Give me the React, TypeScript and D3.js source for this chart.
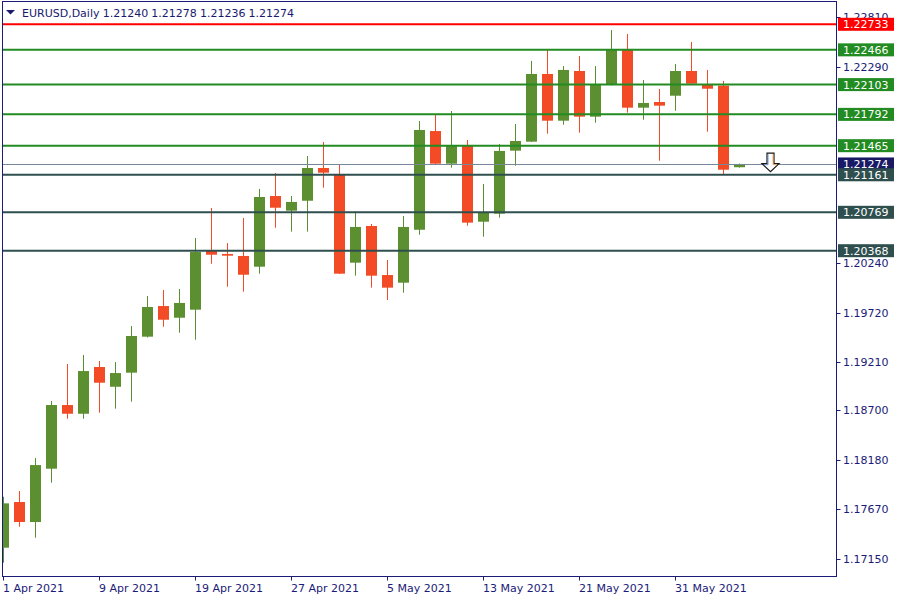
import React from 'react';
import * as d3 from 'd3';

// Daily candles, 1 Apr 2021 (index 0) .. 4 Jun 2021 (index 46)
const opens = [1.17266, 1.17743, 1.17534, 1.18091, 1.18756, 1.18665, 1.19153, 1.18947, 1.19094, 1.19470,
  1.19790, 1.19668, 1.19752, 1.20365, 1.20334, 1.20313, 1.20201, 1.20939, 1.20786, 1.20890,
  1.21232, 1.21169, 1.20243, 1.20626, 1.20114, 1.20034, 1.20587, 1.21618, 1.21277, 1.21465,
  1.20671, 1.20755, 1.21413, 1.21507, 1.22214, 1.21726, 1.22245, 1.21768, 1.22099, 1.22475,
  1.21862, 1.21921, 1.21987, 1.22245, 1.22109, 1.22092, 1.21240];
const highs = [1.17798, 1.17858, 1.18203, 1.18798, 1.19185, 1.19279, 1.19216, 1.19205, 1.19581, 1.19895,
  1.19958, 1.19968, 1.20501, 1.20814, 1.20448, 1.20710, 1.21013, 1.21180, 1.20939, 1.21357,
  1.21504, 1.21274, 1.20778, 1.20647, 1.20271, 1.20731, 1.21723, 1.21796, 1.21827, 1.21524,
  1.21065, 1.21483, 1.21692, 1.22350, 1.22465, 1.22297, 1.22402, 1.22297, 1.22673, 1.22632,
  1.22151, 1.22057, 1.22318, 1.22548, 1.22256, 1.22141, 1.21278];
const lows = [1.17109, 1.17485, 1.17370, 1.17945, 1.18613, 1.18613, 1.18676, 1.18718, 1.18791, 1.19461,
  1.19574, 1.19511, 1.19438, 1.20232, 1.19992, 1.19940, 1.20128, 1.20608, 1.20567, 1.20567,
  1.21026, 1.20125, 1.20107, 1.19982, 1.19853, 1.19929, 1.20535, 1.21274, 1.21235, 1.20629,
  1.20514, 1.20713, 1.21256, 1.21504, 1.21590, 1.21684, 1.21601, 1.21705, 1.22094, 1.21810,
  1.21736, 1.21308, 1.21830, 1.22109, 1.21611, 1.21162, 1.21236];
const closes = [1.17729, 1.17534, 1.18129, 1.18756, 1.18665, 1.19111, 1.18989, 1.19090, 1.19477, 1.19780,
  1.19647, 1.19822, 1.20354, 1.20326, 1.20316, 1.20117, 1.20929, 1.20817, 1.20877, 1.21232,
  1.21183, 1.20128, 1.20616, 1.20107, 1.19982, 1.20616, 1.21629, 1.21277, 1.21465, 1.20661,
  1.20765, 1.21410, 1.21514, 1.22214, 1.21726, 1.22256, 1.21768, 1.22099, 1.22465, 1.21862,
  1.21911, 1.21883, 1.22245, 1.22113, 1.22060, 1.21214, 1.21274];

const levelPrices = [1.22733, 1.22466, 1.22103, 1.21792, 1.21465, 1.21161, 1.20769, 1.20368];
const levelKinds = ['major', 'resistance', 'resistance', 'resistance', 'resistance', 'support', 'support', 'support'];
const currentPrice = 1.21274;

const priceTicks = [1.2281, 1.2229, 1.2024, 1.1972, 1.1921, 1.187, 1.1818, 1.1767, 1.1715];
const dateTickIndex = [0, 6, 12, 18, 24, 30, 36, 42];
const dateTickLabels = ['1 Apr 2021', '9 Apr 2021', '19 Apr 2021', '27 Apr 2021', '5 May 2021', '13 May 2021', '21 May 2021', '31 May 2021'];

const headerTitle = 'EURUSD,Daily';
const headerValues = ['1.21240', '1.21278', '1.21236', '1.21274'];

const arrowIndex = 48;
const arrowPrice = 1.21193;

const W = 900, H = 600;
const left = 2.5, right = 836.5, top = 1.5, bottom = 576.5;
const FONT = 'DejaVu Sans, Verdana, sans-serif';
const AXIS_COLOR = '#1b1b78';
const UP = '#5b8f2f';
const DOWN = '#f34b25';
const kindColor: Record<string, string> = { major: '#ff0000', resistance: '#228b22', support: '#2f4f4f' };

export default function App() {
  const x = d3.scaleLinear().domain([0, 1]).range([3.5, 19.5]);
  const y = d3.scaleLinear().domain([1.16965, 1.22971]).range([bottom, top]);
  const fmt = d3.format('.5f');
  const bw = 11;

  const candles = opens.map((o, i) => {
    const c = closes[i];
    const up = c >= o;
    const col = up ? UP : DOWN;
    const cx = x(i);
    const yTop = y(Math.max(o, c));
    const yBot = y(Math.min(o, c));
    return (
      <g key={i}>
        <rect x={Math.floor(cx)} y={y(highs[i])} width={1} height={Math.max(1, y(lows[i]) - y(highs[i]))} fill={col} />
        <rect x={cx - bw / 2} y={yTop} width={bw} height={Math.max(1, yBot - yTop)} fill={col} />
      </g>
    );
  });

  const ax = x(arrowIndex) - 1;
  const ay = y(arrowPrice);
  const arrowPath = d3.path();
  arrowPath.moveTo(ax - 3.5, ay - 18.5);
  arrowPath.lineTo(ax + 3.5, ay - 18.5);
  arrowPath.lineTo(ax + 3.5, ay - 8);
  arrowPath.lineTo(ax + 8.5, ay - 8);
  arrowPath.lineTo(ax, ay);
  arrowPath.lineTo(ax - 8.5, ay - 8);
  arrowPath.lineTo(ax - 3.5, ay - 8);
  arrowPath.closePath();

  return (
    <svg width={W} height={H} style={{ position: 'absolute', left: 0, top: 0, display: 'block', background: '#fff' }}
      fontFamily={FONT}>
      <rect x={0} y={0} width={W} height={H} fill="#fff" />
      <defs>
        <clipPath id="plotclip">
          <rect x={left} y={top} width={right - left} height={bottom - top} />
        </clipPath>
      </defs>
      <g clipPath="url(#plotclip)">
        {candles}
        {levelPrices.map((p, i) => (
          <line key={i} x1={left} x2={right} y1={y(p)} y2={y(p)} stroke={kindColor[levelKinds[i]]} strokeWidth={2} />
        ))}
        <line x1={left} x2={right} y1={Math.round(y(currentPrice)) + 0.5} y2={Math.round(y(currentPrice)) + 0.5} stroke="#778899" strokeWidth={1} />
        <path d={arrowPath.toString()} fill="#fff" stroke="#1a1a1a" strokeWidth={1.2} />
        <path d={`M${ax - 2.5},${ay - 17.5} L${ax - 2.5},${ay - 7} L${ax - 6.5},${ay - 7}`} fill="none" stroke="#4a78c8" strokeWidth={0.8} />
        <path d={`M${ax + 2.5},${ay - 17.5} L${ax + 2.5},${ay - 7} L${ax + 6.5},${ay - 7}`} fill="none" stroke="#f0a040" strokeWidth={0.8} />
      </g>

      {/* header */}
      <path d="M6,10 L15,10 L10.5,14.5 Z" fill="#191970" />
      <text x={22} y={16.5} fontSize={11} fill="#191970">{headerTitle}</text>
      {headerValues.map((v, i) => (
        <text key={i} x={102.7 + i * 48.6} y={16.5} fontSize={11} fill="#191970">{v}</text>
      ))}

      {/* frame */}
      <rect x={left} y={top} width={right - left} height={bottom - top} fill="none" stroke={AXIS_COLOR} strokeWidth={1} />

      {/* price axis ticks */}
      {priceTicks.map((p, i) => (
        <g key={i}>
          <line x1={right} x2={right + 4} y1={Math.round(y(p)) + 0.5} y2={Math.round(y(p)) + 0.5} stroke={AXIS_COLOR} />
          <text x={843} y={y(p) + 4} fontSize={11} fill={AXIS_COLOR}>{fmt(p)}</text>
        </g>
      ))}

      {/* current price label (under level labels, as in the reference) */}
      <g>
        <rect x={838} y={y(currentPrice) - 6.5} width={56} height={13} fill="#191966" />
        <text x={843} y={y(currentPrice) + 4} fontSize={11} fill="#fff">{fmt(currentPrice)}</text>
      </g>

      {/* level labels */}
      {levelPrices.map((p, i) => (
        <g key={i}>
          <rect x={838} y={y(p) - 6.5} width={56} height={13} fill={kindColor[levelKinds[i]]} />
          <text x={843} y={y(p) + 4} fontSize={11} fill="#fff">{fmt(p)}</text>
        </g>
      ))}

      {/* date axis */}
      {dateTickIndex.map((idx, i) => (
        <g key={i}>
          <line x1={Math.round(x(idx)) - 0.5} x2={Math.round(x(idx)) - 0.5} y1={bottom} y2={bottom + 4} stroke={AXIS_COLOR} />
          <text x={x(idx) - 0.5} y={591.5} fontSize={11} fill={AXIS_COLOR}>{dateTickLabels[i]}</text>
        </g>
      ))}
    </svg>
  );
}
